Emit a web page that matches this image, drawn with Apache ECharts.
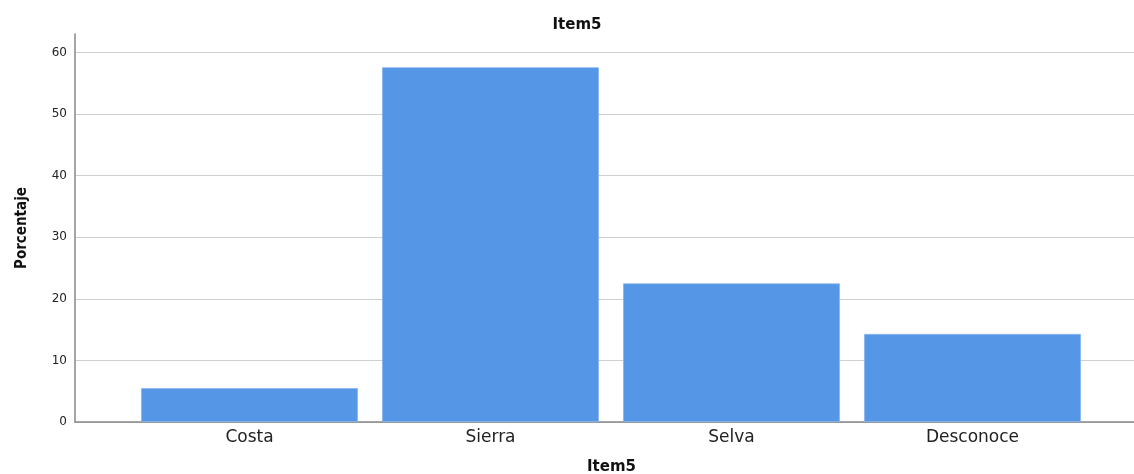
<!DOCTYPE html>
<html>
<head>
<meta charset="utf-8">
<script src="https://cdn.jsdelivr.net/npm/echarts@6/dist/echarts.min.js"></script>
<style>
  html, body { margin: 0; padding: 0; background: #fff; }
  #chart { width: 1134px; height: 474px; }
</style>
</head>
<body>
<div id="chart"></div>
<script>
  // datos
  var categorias = ['Costa', 'Sierra', 'Selva', 'Desconoce'];
  var porcentajes = [5.5, 57.6, 22.5, 14.3];
  var yTicks = [0, 10, 20, 30, 40, 50, 60];

  var yMax = 63;
  var fuente = "'DejaVu Sans', 'Liberation Sans', sans-serif";
  var myChart = echarts.init(document.getElementById('chart'));

  myChart.setOption({
    animation: false,
    title: {
      text: 'Item5',
      left: 572,
      top: 13,
      textAlign: 'center',
      textStyle: { fontFamily: fuente, fontWeight: 'bold', fontSize: 15, color: '#111' }
    },
    grid: [
      // rejilla de fondo: eje y, líneas y eje x completo
      { left: 75, right: 0, top: 34, bottom: 52, outerBoundsMode: 'none', containLabel: false },
      // rejilla de las barras
      { left: 129, width: 964, top: 34, bottom: 52, outerBoundsMode: 'none', containLabel: false }
    ],
    xAxis: [
      {
        type: 'value', gridIndex: 0, min: 0, max: 1,
        axisLine: { show: true, lineStyle: { color: '#888', width: 1.5 } },
        axisTick: { show: false }, axisLabel: { show: false }, splitLine: { show: false },
        name: 'Item5', nameLocation: 'middle', nameGap: 38,
        nameTextStyle: { fontFamily: fuente, fontWeight: 'bold', fontSize: 15, color: '#111', padding: [0, 0, 0, 14] }
      },
      {
        type: 'category', gridIndex: 1, data: categorias,
        axisLine: { show: false }, axisTick: { show: false },
        axisLabel: { fontFamily: fuente, fontSize: 17, color: '#222', margin: 7 }
      }
    ],
    yAxis: [
      {
        type: 'value', gridIndex: 0, min: 0, max: yMax, interval: 10,
        axisLine: { show: true, lineStyle: { color: '#888', width: 1.5 } },
        axisTick: { show: false },
        axisLabel: {
          fontFamily: fuente, fontSize: 12, color: '#222', margin: 8,
          showMaxLabel: false,
          formatter: function (v) { return yTicks.indexOf(v) >= 0 ? v : ''; }
        },
        splitLine: { show: true, showMaxLine: false, lineStyle: { color: '#cfcfcf', width: 1.2 } },
        name: 'Porcentaje', nameLocation: 'middle', nameGap: 45, nameRotate: 90,
        nameTextStyle: { fontFamily: "'DejaVu Sans Condensed', 'DejaVu Sans', sans-serif", fontWeight: 'bold', fontSize: 15, color: '#111' }
      },
      {
        type: 'value', gridIndex: 1, min: 0, max: yMax, show: false
      }
    ],
    series: [{
      type: 'bar',
      xAxisIndex: 1,
      yAxisIndex: 1,
      data: porcentajes,
      barWidth: '90%',
      itemStyle: { color: '#5596e6', borderColor: '#8ab6ee', borderWidth: 0.8 }
    }]
  });

  window.addEventListener('resize', function () {
    myChart.resize();
  });
</script>
</body>
</html>
